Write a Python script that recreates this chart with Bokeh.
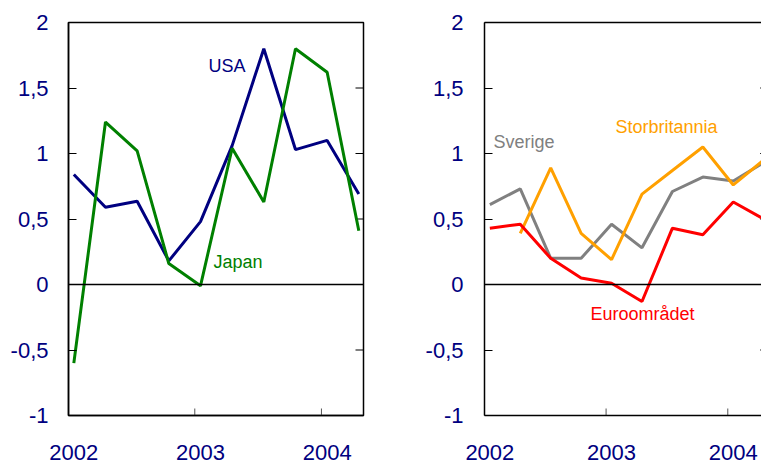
import numpy as np
from bokeh.plotting import figure
from bokeh.layouts import row
from bokeh.models import (LinearAxis, FixedTicker, CustomJSTickFormatter, Span,
                          Label, Range1d)
from bokeh.embed import file_html
from bokeh.resources import INLINE

# ---------------- data ----------------
quarters = ["2002Q1", "2002Q2", "2002Q3", "2002Q4",
            "2003Q1", "2003Q2", "2003Q3", "2003Q4",
            "2004Q1", "2004Q2"]
usa = [0.84, 0.59, 0.635, 0.18, 0.48, 1.06, 1.80, 1.03, 1.10, 0.69]
japan = [-0.60, 1.24, 1.02, 0.16, -0.01, 1.04, 0.63, 1.80, 1.62, 0.41]
sverige = [0.61, 0.73, 0.20, 0.20, 0.46, 0.28, 0.71, 0.82, 0.79, 0.93]
storbritannia = [np.nan, 0.39, 0.89, 0.39, 0.19, 0.69, 0.87, 1.05, 0.76, 0.95]
euroomradet = [0.43, 0.46, 0.20, 0.05, 0.01, -0.13, 0.43, 0.38, 0.63, 0.50]
year_labels = ["2002", "2003", "2004"]
y_ticks = [-1, -0.5, 0, 0.5, 1, 1.5, 2]

t = [int(q[:4]) + (int(q[5]) - 1) / 4 for q in quarters]
years = [int(y) for y in year_labels]

FONT = "Liberation Sans"
NAVY = "#000080"
GREEN = "#008000"
GRAY = "#808080"
ORANGE = "#FFA000"
RED = "#FF0000"
TICK_SHIFT = 0.045
Y_MIN, Y_MAX = -1, 2

comma = CustomJSTickFormatter(code="return tick.toString().replace('.', ',');")


def make_fig(width, min_left, min_right, x_start, x_end, outline, right_edge):
    p = figure(width=width, height=464, x_range=Range1d(x_start, x_end),
               y_range=Range1d(Y_MIN, Y_MAX), output_backend="svg", toolbar_location=None,
               min_border_left=min_left, min_border_right=min_right,
               min_border_top=22, min_border_bottom=49)
    p.xgrid.visible = False
    p.ygrid.visible = False
    p.background_fill_color = "white"
    p.border_fill_color = "white"
    if outline:
        p.outline_line_color = "black"
        p.outline_line_width = 1.5
    else:
        p.outline_line_color = None

    # y axis
    ya = p.yaxis[0]
    ya.ticker = FixedTicker(ticks=y_ticks)
    ya.formatter = comma
    ya.major_tick_in = 8
    ya.major_tick_out = 0
    ya.minor_tick_in = 0
    ya.minor_tick_out = 0
    ya.axis_line_color = "black"
    ya.axis_line_width = 1.5
    ya.major_label_text_font = FONT
    ya.major_label_text_font_size = "22px"
    ya.major_label_text_color = NAVY
    ya.major_label_standoff = 20

    # x axis: year labels, tick marks drawn separately (they sit slightly left)
    xa = p.xaxis[0]
    xa.ticker = FixedTicker(ticks=years)
    xa.major_label_overrides = {y: s for y, s in zip(years, year_labels)}
    xa.major_tick_in = 0
    xa.major_tick_out = 0
    xa.minor_tick_in = 0
    xa.minor_tick_out = 0
    xa.axis_line_color = "black"
    xa.axis_line_width = 1.5
    xa.major_label_text_font = FONT
    xa.major_label_text_font_size = "22px"
    xa.major_label_text_color = NAVY
    xa.major_label_standoff = 29

    # inward x tick marks
    xt = [y - TICK_SHIFT for y in years if y - TICK_SHIFT > x_start + 0.02]
    p.scatter(xt, [Y_MIN] * len(xt), marker="dash", angle=np.pi / 2, size=14,
              line_color="#555555", line_width=1)
    # inward right tick marks
    inner = [v for v in y_ticks if Y_MIN < v < Y_MAX]
    p.scatter([right_edge] * len(inner), inner, marker="dash", size=16,
              line_color="black", line_width=1.2)

    p.add_layout(Span(location=0, dimension="width", line_color="black", line_width=1.5))
    return p


# ---------- left panel ----------
p1 = make_fig(380, 68, 17, 2001.958, 2004.287, True, 2004.287)
p1.line(t, usa, line_color=NAVY, line_width=3)
p1.line(t, japan, line_color=GREEN, line_width=3)
p1.add_layout(Label(x=2003.063, y=1.67, text="USA", text_font=FONT, text_font_size="18px",
                    text_color=NAVY, text_baseline="middle", text_align="left"))
p1.add_layout(Label(x=2003.103, y=0.168, text="Japan", text_font=FONT, text_font_size="18px",
                    text_color=GREEN, text_baseline="middle", text_align="left"))

# ---------- right panel ----------
p2 = make_fig(381, 104, 0, 2001.956, 2004.232, False, 2004.287)
ta = LinearAxis(ticker=FixedTicker(ticks=[]), major_tick_in=0, major_tick_out=0,
                minor_tick_in=0, minor_tick_out=0,
                axis_line_color="black", axis_line_width=1.5)
p2.add_layout(ta, "above")
p2.yaxis[0].major_label_standoff = 21
p2.line(t, sverige, line_color=GRAY, line_width=3)
p2.line(t, storbritannia, line_color=ORANGE, line_width=3)
p2.line(t, euroomradet, line_color=RED, line_width=3)
p2.add_layout(Label(x=2002.03, y=1.09, text="Sverige", text_font=FONT, text_font_size="18px",
                    text_color=GRAY, text_baseline="middle", text_align="left"))
p2.add_layout(Label(x=2003.033, y=1.206, text="Storbritannia", text_font=FONT,
                    text_font_size="18px", text_color=ORANGE, text_baseline="middle",
                    text_align="left"))
p2.add_layout(Label(x=2002.827, y=-0.229, text="Euroområdet", text_font=FONT,
                    text_font_size="18px", text_color=RED, text_baseline="middle",
                    text_align="left"))

layout = row(p1, p2)
open("out.html", "w").write(file_html(layout, INLINE))
